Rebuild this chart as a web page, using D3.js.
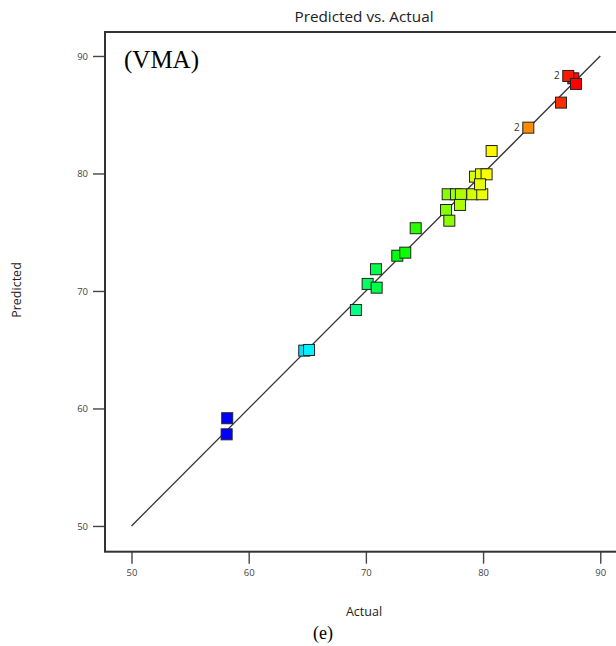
<!DOCTYPE html>
<html>
<head>
<meta charset="utf-8">
<script src="https://cdn.jsdelivr.net/npm/d3@7/dist/d3.min.js"></script>
<style>
  html, body { margin: 0; padding: 0; background: #fff; }
  svg { display: block; }
</style>
</head>
<body>
<svg id="chart" width="616" height="646"></svg>
<script>
// Predicted vs. actual VMA values for each design run
const actual = [58.17, 58.12, 64.74, 65.15, 69.15, 70.15, 70.92, 70.86, 72.68, 73.36,
                74.25, 76.98, 77.69, 78.11, 79.08, 79.93, 78.03, 76.84, 77.12, 79.31,
                79.82, 80.30, 79.74, 80.73, 83.86, 86.65, 87.70, 87.27, 87.93];
const predicted = [59.17, 57.80, 64.92, 64.98, 68.38, 70.60, 70.28, 71.85, 73.00, 73.26,
                   75.34, 78.23, 78.23, 78.23, 78.23, 78.23, 77.32, 76.89, 75.98, 79.73,
                   79.93, 79.93, 79.08, 81.91, 83.90, 86.03, 88.10, 88.30, 87.62];
// Number of coincident runs plotted at each point
const counts = [1, 1, 1, 1, 1, 1, 1, 1, 1, 1,
                1, 1, 1, 1, 1, 1, 1, 1, 1, 1,
                1, 1, 1, 1, 2, 1, 1, 2, 1];
const tickValues = [50, 60, 70, 80, 90];
const colorStops = ["#0000ff", "#00ffff", "#00ff00", "#ffff00", "#ff0000"];

const svg = d3.select("#chart");
const frame = { left: 105, right: 623, top: 32, bottom: 551.7 };

const x = d3.scaleLinear().domain([47.74, 91.94]).range([frame.left, frame.right]);
const y = d3.scaleLinear().domain([47.81, 92.04]).range([frame.bottom, frame.top]);

const aMin = d3.min(actual), aMax = d3.max(actual);
const color = d3.scaleLinear()
  .domain(colorStops.map((_, i) => aMin + (aMax - aMin) * i / (colorStops.length - 1)))
  .range(colorStops)
  .interpolate(d3.interpolateRgb);

const tickFont = "'Open Sans', 'DejaVu Sans', sans-serif";

// Title
svg.append("text")
  .attr("x", (frame.left + frame.right) / 2)
  .attr("y", 22)
  .attr("text-anchor", "middle")
  .attr("font-family", tickFont)
  .attr("font-size", 15.3)
  .attr("fill", "#222")
  .text("Predicted vs. Actual");

// Axes
const xAxis = d3.axisBottom(x).tickValues(tickValues).tickSize(12).tickPadding(6);
const yAxis = d3.axisLeft(y).tickValues(tickValues).tickSize(12).tickPadding(5);

const gx = svg.append("g").attr("transform", `translate(0,${frame.bottom})`).call(xAxis);
const gy = svg.append("g").attr("transform", `translate(${frame.left},0)`).call(yAxis);
[gx, gy].forEach(g => {
  g.select(".domain").remove();
  g.selectAll(".tick line").attr("stroke", "#444").attr("stroke-width", 1.4);
  g.selectAll(".tick text")
    .attr("font-family", tickFont)
    .attr("font-size", 9.5)
    .attr("fill", "#444");
});

// Plot frame
svg.append("rect")
  .attr("x", frame.left)
  .attr("y", frame.top)
  .attr("width", frame.right - frame.left)
  .attr("height", frame.bottom - frame.top)
  .attr("fill", "none")
  .attr("stroke", "#333")
  .attr("stroke-width", 2);

// 45-degree reference line
svg.append("line")
  .attr("x1", x(50)).attr("y1", y(50))
  .attr("x2", x(90)).attr("y2", y(90))
  .attr("stroke", "#333")
  .attr("stroke-width", 1.3);

// Points
const data = actual.map((a, i) => ({ a, p: predicted[i], n: counts[i] }));
const size = 11;
svg.append("g").selectAll("rect")
  .data(data)
  .join("rect")
  .attr("x", d => x(d.a) - size / 2)
  .attr("y", d => y(d.p) - size / 2)
  .attr("width", size)
  .attr("height", size)
  .attr("fill", d => color(d.a))
  .attr("stroke", "#222")
  .attr("stroke-width", 1);

// Count labels for coincident runs
svg.append("g").selectAll("text")
  .data(data.filter(d => d.n > 1))
  .join("text")
  .attr("x", d => x(d.a) - size / 2 - 3)
  .attr("y", d => y(d.p) + 3.5)
  .attr("text-anchor", "end")
  .attr("font-family", tickFont)
  .attr("font-size", 10)
  .attr("fill", "#333")
  .text(d => d.n);

// Axis titles
svg.append("text")
  .attr("x", 364)
  .attr("y", 616)
  .attr("text-anchor", "middle")
  .attr("font-family", tickFont)
  .attr("font-size", 12.5)
  .attr("fill", "#222")
  .text("Actual");

svg.append("text")
  .attr("transform", "translate(21,290) rotate(-90)")
  .attr("text-anchor", "middle")
  .attr("font-family", tickFont)
  .attr("font-size", 12.5)
  .attr("fill", "#222")
  .text("Predicted");

// Panel annotations
svg.append("text")
  .attr("x", 124)
  .attr("y", 68)
  .attr("font-family", "'Liberation Serif', 'Times New Roman', serif")
  .attr("font-size", 25)
  .attr("fill", "#000")
  .text("(VMA)");

svg.append("text")
  .attr("x", 323)
  .attr("y", 639)
  .attr("text-anchor", "middle")
  .attr("font-family", "'Liberation Serif', 'Times New Roman', serif")
  .attr("font-size", 18)
  .attr("fill", "#000")
  .text("(e)");
</script>
</body>
</html>
